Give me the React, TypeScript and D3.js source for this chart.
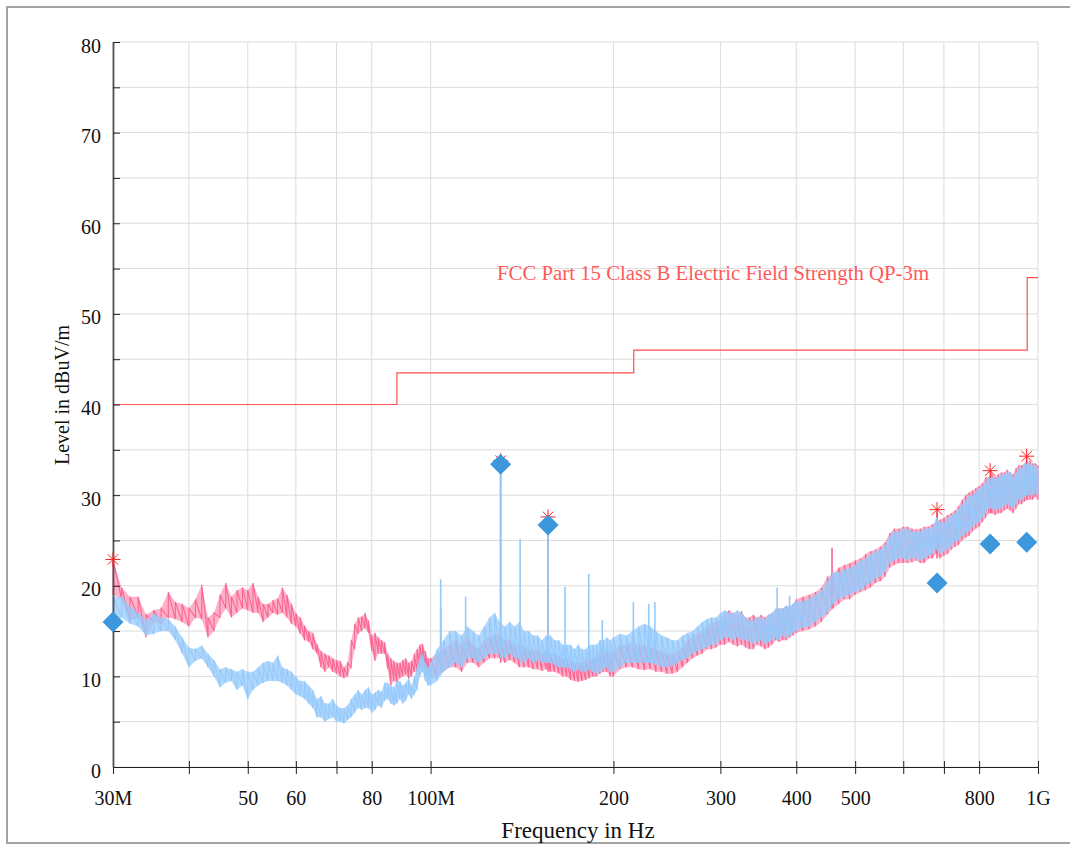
import React, { useRef, useEffect } from "react";
import * as d3 from "d3";

// scan grid (MHz)
const lowBandMHz = [
  30, 31, 32, 33, 34, 35, 36, 37, 38, 39, 40, 41, 42, 43, 44, 45, 46, 47, 48, 49,
  50, 51, 52, 53, 54, 55, 56, 57, 58, 59, 60, 61, 62, 63, 64, 65, 66, 67, 68, 69,
  70, 71, 72, 73, 74, 75, 76, 77, 78, 79, 80, 81, 82, 83, 84, 85, 86, 87, 88, 89,
  90, 91, 92, 93, 94, 95, 96, 97, 98, 99, 100,
];
const highBandMHz = [
  102.5, 105, 107.5, 110, 112.5, 115, 117.5, 120, 122.5, 125, 127.5, 130, 132.5, 135, 137.5, 140,
  142.5, 145, 147.5, 150, 152.5, 155, 157.5, 160, 162.5, 165, 167.5, 170, 172.5, 175, 177.5, 180,
  182.5, 185, 187.5, 190, 192.5, 195, 197.5, 200,
  205, 210, 215, 220, 225, 230, 235, 240, 245, 250, 255, 260, 265, 270, 275, 280, 285, 290, 295, 300,
  305, 310, 315, 320, 325, 330, 335, 340, 345, 350, 355, 360, 365, 370, 375, 380, 385, 390, 395, 400,
  410, 420, 430, 440, 450, 460, 470, 480, 490, 500, 510, 520, 530, 540, 550, 560, 570, 580, 590, 600,
  610, 620, 630, 640, 650, 660, 670, 680, 690, 700, 710, 720, 730, 740, 750, 760, 770, 780, 790, 800,
  810, 820, 830, 840, 850, 860, 870, 880, 890, 900, 910, 920, 930, 940, 950, 960, 970, 980, 990, 1000,
];

// horizontal scan (pink), min / max of the trace at each grid step
const horLowMin = [
  19.0, 18.5, 16.2, 16.5, 14.3, 16.0, 15.8, 16.5, 16.3, 16.0,
  15.5, 16.5, 16.3, 14.3, 15.0, 16.5, 17.5, 16.5, 17.0, 17.5,
  17.3, 17.0, 17.0, 16.0, 16.5, 17.0, 16.8, 17.0, 16.5, 15.8,
  15.5, 14.7, 14.0, 13.8, 13.0, 12.5, 11.0, 10.5, 11.0, 10.5,
  10.3, 10.0, 9.8, 10.0, 11.0, 13.0, 14.7, 15.0, 15.3, 14.8,
  12.8, 11.7, 12.5, 12.5, 12.5, 10.8, 9.0, 9.5, 9.3, 9.8,
  10.0, 10.2, 9.8, 10.0, 10.5, 10.5, 11.0, 11.5, 10.5, 10.0, 9.8,
];
const horLowMax = [
  22.9, 19.8, 18.8, 18.8, 16.8, 17.3, 17.5, 19.3, 18.2, 18.0,
  17.5, 18.5, 20.1, 16.5, 17.0, 19.0, 20.3, 18.8, 19.5, 19.8,
  19.5, 20.3, 18.8, 18.0, 18.0, 18.4, 18.6, 19.8, 19.0, 18.0,
  17.0, 16.5, 15.6, 15.0, 14.8, 13.6, 12.8, 12.5, 12.3, 12.0,
  11.8, 11.7, 11.0, 11.5, 14.0, 15.8, 16.5, 16.6, 17.0, 16.2,
  14.5, 14.8, 14.3, 14.0, 13.8, 12.5, 12.0, 11.7, 11.5, 11.5,
  11.8, 12.0, 11.5, 11.7, 12.5, 13.0, 13.5, 13.6, 12.8, 12.0, 12.0,
];
const horHighMin = [
  10.0, 10.5, 11.0, 11.0, 10.5, 11.5, 11.5, 11.0, 11.5, 12.0,
  12.0, 12.0, 11.5, 11.8, 11.5, 11.0, 11.0, 11.0, 10.8, 10.8,
  10.6, 10.8, 10.5, 10.5, 10.3, 10.0, 10.0, 9.6, 9.5, 9.4,
  9.5, 9.6, 9.8, 10.0, 10.0, 10.3, 10.5, 10.5, 10.0, 10.0,
  10.8, 11.0, 11.0, 10.8, 10.7, 10.8, 10.5, 10.5, 10.3, 10.3,
  10.5, 11.0, 11.5, 12.0, 12.3, 12.5, 13.0, 13.0, 13.2, 13.5,
  13.5, 13.8, 13.5, 13.3, 13.5, 13.2, 13.0, 13.0, 13.5, 13.3,
  13.0, 13.2, 13.5, 14.0, 13.8, 14.0, 14.0, 14.3, 14.5, 14.8,
  15.0, 15.2, 15.5, 16.0, 16.8, 17.5, 18.0, 18.5, 18.5, 19.0,
  19.3, 19.5, 19.8, 20.3, 20.5, 21.0, 22.0, 22.3, 22.5, 22.5,
  22.5, 22.6, 22.8, 22.5, 22.5, 23.0, 23.0, 23.5, 23.0, 23.3,
  23.5, 24.0, 24.3, 24.5, 25.0, 25.3, 25.5, 26.0, 26.3, 26.5,
  27.0, 27.5, 28.0, 28.0, 27.8, 28.0, 28.0, 28.3, 28.5, 28.3,
  28.0, 28.5, 29.0, 29.0, 29.3, 29.5, 29.5, 29.5, 29.8, 29.5,
];
const horHighMax = [
  12.5, 13.0, 13.5, 14.0, 13.5, 14.3, 13.5, 13.0, 14.0, 14.5,
  14.6, 14.5, 14.0, 14.0, 13.5, 13.5, 13.3, 13.0, 12.8, 13.0,
  12.5, 13.0, 12.5, 12.5, 12.3, 12.0, 12.0, 11.8, 11.5, 11.5,
  11.5, 11.8, 12.0, 12.0, 12.2, 12.5, 12.5, 12.8, 12.5, 12.8,
  13.5, 13.5, 13.8, 13.6, 13.5, 13.3, 13.0, 12.8, 12.5, 12.5,
  12.8, 13.3, 14.0, 14.5, 14.8, 15.0, 15.5, 15.8, 16.0, 16.5,
  17.0, 17.3, 17.0, 16.8, 17.2, 16.5, 16.5, 16.8, 16.5, 16.8,
  16.5, 16.8, 17.0, 17.3, 17.5, 17.5, 17.8, 17.5, 18.0, 18.5,
  18.8, 19.0, 19.3, 19.8, 21.0, 21.3, 22.0, 22.3, 22.5, 22.8,
  23.0, 23.5, 23.8, 24.0, 24.3, 24.8, 25.8, 26.3, 26.3, 26.5,
  26.5, 26.3, 26.2, 26.3, 26.5, 26.5, 26.8, 27.0, 27.3, 27.5,
  27.8, 28.0, 28.3, 28.8, 29.5, 30.0, 30.3, 30.5, 30.8, 31.0,
  31.3, 32.0, 32.0, 32.3, 32.0, 32.3, 32.5, 32.5, 32.8, 32.5,
  32.3, 33.0, 33.3, 33.3, 33.5, 33.6, 33.8, 33.5, 33.5, 33.3,
];

// vertical scan (light blue)
const verLowMin = [
  16.0, 16.5, 15.8, 15.5, 14.5, 14.7, 15.0, 15.0, 14.0, 12.5,
  11.0, 11.7, 12.0, 11.0, 10.0, 8.8, 9.3, 9.5, 8.5, 9.0,
  7.5, 8.5, 9.0, 9.3, 9.5, 9.5, 9.5, 9.3, 9.0, 8.5,
  8.0, 7.8, 7.5, 7.0, 6.5, 5.5, 5.5, 5.0, 5.3, 5.5,
  5.0, 5.0, 4.8, 5.2, 5.5, 6.0, 6.5, 6.3, 6.5, 6.5,
  6.0, 6.3, 6.8, 6.5, 7.3, 7.5, 7.0, 6.8, 7.0, 7.5,
  7.0, 7.3, 8.0, 7.5, 8.0, 8.5, 10.0, 10.5, 9.5, 9.0, 9.0,
];
const verLowMax = [
  18.8, 18.8, 17.7, 17.0, 16.2, 16.9, 16.5, 16.3, 15.5, 14.3,
  13.2, 13.0, 13.4, 12.5, 11.8, 10.8, 11.0, 10.8, 10.5, 10.8,
  10.5, 10.5, 11.0, 11.5, 11.7, 11.5, 12.3, 11.0, 10.8, 10.5,
  10.0, 9.5, 9.5, 9.0, 8.5, 7.5, 7.8, 7.0, 7.0, 7.5,
  6.8, 6.5, 6.5, 6.8, 7.5, 8.0, 8.5, 8.0, 8.5, 8.8,
  8.0, 8.2, 8.5, 8.3, 9.3, 9.3, 9.0, 8.8, 9.5, 9.5,
  9.0, 9.3, 9.8, 9.0, 10.0, 11.0, 12.0, 12.5, 11.5, 11.0, 11.5,
];
const verHighMin = [
  9.5, 10.5, 11.0, 11.5, 11.0, 12.0, 12.0, 11.5, 12.0, 12.5,
  12.5, 12.5, 12.0, 12.5, 12.0, 12.0, 11.5, 12.0, 11.5, 11.8,
  11.5, 11.5, 11.5, 11.3, 11.0, 11.0, 11.0, 10.8, 10.5, 10.8,
  10.5, 10.5, 10.8, 10.5, 10.3, 10.5, 10.8, 11.0, 10.5, 10.5,
  11.0, 11.5, 11.5, 11.5, 11.5, 11.5, 11.3, 11.0, 11.0, 11.2,
  11.5, 11.8, 12.0, 12.5, 12.8, 13.0, 13.2, 13.5, 13.5, 14.0,
  14.3, 14.3, 14.0, 14.3, 14.0, 14.0, 13.8, 13.6, 13.8, 14.0,
  13.6, 13.8, 14.0, 14.3, 14.0, 14.5, 14.3, 14.5, 14.8, 15.0,
  15.4, 15.5, 16.0, 16.5, 17.0, 18.0, 18.5, 18.8, 19.0, 19.3,
  19.5, 20.0, 20.3, 20.8, 21.0, 21.5, 22.5, 22.8, 23.0, 23.0,
  22.8, 23.0, 23.0, 22.8, 23.0, 23.3, 23.5, 24.0, 23.5, 23.8,
  24.0, 24.3, 24.8, 25.0, 25.5, 25.8, 26.0, 26.5, 26.8, 27.0,
  27.5, 28.0, 28.5, 28.5, 28.3, 28.5, 28.5, 28.8, 29.0, 28.8,
  28.5, 29.0, 29.5, 29.5, 29.8, 30.0, 30.0, 30.0, 30.3, 30.0,
];
const verHighMax = [
  13.0, 14.0, 15.0, 15.0, 14.5, 15.5, 15.0, 14.5, 15.5, 16.5,
  17.0, 16.0, 15.5, 16.0, 15.5, 16.0, 15.0, 15.0, 14.5, 14.5,
  14.0, 14.5, 14.5, 14.0, 14.0, 13.5, 13.5, 13.5, 13.0, 13.5,
  13.0, 13.0, 13.5, 13.5, 13.5, 14.0, 14.0, 14.3, 14.0, 14.3,
  14.7, 14.5, 15.0, 15.5, 15.8, 15.5, 15.0, 14.5, 14.3, 14.0,
  14.0, 14.5, 14.8, 15.0, 15.5, 16.0, 16.3, 16.5, 16.5, 17.0,
  17.3, 17.0, 17.0, 17.3, 17.0, 16.5, 16.2, 16.2, 16.5, 16.5,
  16.3, 16.8, 17.0, 17.5, 17.5, 17.5, 17.8, 17.8, 18.0, 18.3,
  18.3, 18.6, 19.0, 19.5, 20.5, 21.5, 21.5, 21.8, 22.0, 22.3,
  22.8, 23.0, 23.5, 23.8, 24.0, 24.5, 25.5, 26.0, 26.0, 26.3,
  26.3, 26.0, 26.0, 26.0, 26.3, 26.3, 26.5, 27.5, 27.0, 27.0,
  27.5, 27.8, 28.0, 28.5, 29.0, 29.5, 30.0, 30.0, 30.5, 30.8,
  31.0, 31.5, 32.0, 32.0, 31.8, 32.0, 32.3, 32.3, 32.5, 32.5,
  32.0, 32.5, 33.0, 33.0, 33.5, 33.8, 33.5, 33.3, 33.3, 33.0,
];

// narrow emissions sticking out of the noise floor
const verSpikeMHz = [103.9, 114.2, 130.4, 140.4, 156.1, 166.4, 182.1, 191.7, 215.7, 228.6, 234, 372, 390];
const verSpikeLevels = [20.7, 18.8, 33.2, 25.2, 26.4, 19.9, 21.3, 16.2, 18.2, 18.0, 18.2, 19.8, 18.9];
const horSpikeMHz = [103.9, 130.4, 156.1, 458, 682, 836, 958];
const horSpikeLevels = [17.5, 33.8, 27.6, 24.2, 28.2, 32.7, 34.2];

// final measurement results
const markerMHz = [30, 130.4, 156.1, 682, 834, 958];
const peakLevels = [22.9, 33.8, 27.6, 28.4, 32.7, 34.3];
const qpLevels = [16.0, 33.4, 26.7, 20.3, 24.6, 24.8];

// limit line
const limitMHz = [30, 88, 216, 960, 1000];
const limitLevels = [40, 43.5, 46, 54, 54];
const limitName = "FCC Part 15 Class B Electric Field Strength QP-3m";

const xTickValues = [30, 40, 50, 60, 70, 80, 100, 200, 300, 400, 500, 600, 700, 800, 1000];
const xTickLabels = ["30M", "", "50", "60", "", "80", "100M", "200", "300", "400", "500", "", "", "800", "1G"];
const yTickValues = [0, 5, 10, 15, 20, 25, 30, 35, 40, 45, 50, 55, 60, 65, 70, 75, 80];

const FONT = "'Liberation Serif', 'Times New Roman', serif";
const PINK = "#fb6593";
const BLUE = "#96c9fb";

const EmcChart: React.FC = () => {
  const svgRef = useRef<SVGSVGElement>(null);

  useEffect(() => {
    if (svgRef.current === null) return;
    const svg = d3.select(svgRef.current);
    svg.selectAll("*").remove();

    const x = d3.scaleLog().domain([30, 1000]).range([113, 1038]);
    const y = d3.scaleLinear().domain([0, 80]).range([767, 42]);

    // outer frame
    svg
      .append("rect")
      .attr("x", 7)
      .attr("y", 7)
      .attr("width", 1100)
      .attr("height", 836)
      .attr("fill", "#fff")
      .attr("stroke", "#a3a3a3")
      .attr("stroke-width", 2);

    // grid
    const grid = svg.append("g").attr("stroke", "#dcdcdc").attr("stroke-width", 1);
    grid
      .selectAll("line.h")
      .data(yTickValues)
      .enter()
      .append("line")
      .attr("x1", 113)
      .attr("x2", 1038)
      .attr("y1", d => y(d))
      .attr("y2", d => y(d));
    grid
      .selectAll("line.v")
      .data(xTickValues)
      .enter()
      .append("line")
      .attr("x1", d => x(d))
      .attr("x2", d => x(d))
      .attr("y1", 42)
      .attr("y2", 767);

    // limit line + label
    const limitPts = limitMHz.map((f, i) => [f, limitLevels[i]] as [number, number]);
    svg
      .append("path")
      .attr(
        "d",
        d3
          .line<[number, number]>()
          .x(d => x(d[0]))
          .y(d => y(d[1]))
          .curve(d3.curveStepAfter)(limitPts)
      )
      .attr("fill", "none")
      .attr("stroke", "#ff5050")
      .attr("stroke-width", 1.2);
    svg
      .append("text")
      .attr("x", 497)
      .attr("y", 280)
      .attr("fill", "#ff5a5a")
      .style("font-family", FONT)
      .style("font-size", "20.8px")
      .text(limitName);

    // traces
    const scanMHz = lowBandMHz.concat(highBandMHz);
    const drawTrace = (mins: number[], maxs: number[], color: string, fillOpacity: number) => {
      const rows = scanMHz.map((f, i) => ({ f, lo: mins[i], hi: maxs[i] }));
      const g = svg.append("g");
      g.append("path")
        .datum(rows)
        .attr(
          "d",
          d3
            .area<{ f: number; lo: number; hi: number }>()
            .x(d => x(d.f))
            .y0(d => y(d.lo))
            .y1(d => y(d.hi))
        )
        .attr("fill", color)
        .attr("opacity", fillOpacity);
      // saw-tooth through the min/max readings
      const saw = rows.flatMap(d => [
        [d.f, d.lo],
        [d.f, d.hi],
      ]) as [number, number][];
      g.append("path")
        .attr(
          "d",
          d3
            .line<[number, number]>()
            .x(d => x(d[0]))
            .y(d => y(d[1]))(saw)
        )
        .attr("fill", "none")
        .attr("stroke", color)
        .attr("stroke-width", 1.1);
    };
    const drawSpikes = (freqs: number[], levels: number[], mins: number[], color: string) => {
      svg
        .append("g")
        .selectAll("line")
        .data(freqs)
        .enter()
        .append("line")
        .attr("x1", d => x(d))
        .attr("x2", d => x(d))
        .attr("y1", (d, i) => y(levels[i]))
        .attr("y2", d => {
          const idx = Math.min(d3.bisectLeft(scanMHz, d), scanMHz.length - 1);
          return y(mins[idx]);
        })
        .attr("stroke", color)
        .attr("stroke-width", 1.6);
    };

    const horMin = horLowMin.concat(horHighMin);
    const horMax = horLowMax.concat(horHighMax);
    const verMin = verLowMin.concat(verHighMin);
    const verMax = verLowMax.concat(verHighMax);

    drawTrace(horMin, horMax, PINK, 0.5);
    drawSpikes(horSpikeMHz, horSpikeLevels, horMin, PINK);
    drawTrace(verMin, verMax, BLUE, 0.75);
    drawSpikes(verSpikeMHz, verSpikeLevels, verMin, BLUE);

    // axes
    const xAxis = d3
      .axisBottom(x)
      .tickValues(xTickValues)
      .tickFormat((d, i) => xTickLabels[i])
      .tickSize(7)
      .tickSizeOuter(0)
      .tickPadding(17);
    const gx = svg.append("g").attr("transform", "translate(0,767)").call(xAxis);
    gx.select(".domain").attr("stroke", "#222");
    gx.selectAll(".tick line").attr("y1", -6).attr("stroke", "#222");
    gx.selectAll(".tick text")
      .attr("fill", "#111")
      .style("font-family", FONT)
      .style("font-size", "20px");

    const yAxis = d3
      .axisLeft(y)
      .tickValues(yTickValues)
      .tickFormat(d => ((d as number) % 10 === 0 ? String(d) : ""))
      .tickSize(6)
      .tickSizeOuter(0)
      .tickPadding(6);
    const gy = svg.append("g").attr("transform", "translate(113,0)").call(yAxis);
    gy.select(".domain").attr("stroke", "#555").attr("stroke-width", 1.8);
    gy.selectAll(".tick line").attr("x2", 7).attr("stroke", "#222");
    gy.selectAll(".tick text")
      .attr("dy", "0.5em")
      .attr("fill", "#111")
      .style("font-family", FONT)
      .style("font-size", "20px");

    // axis titles
    svg
      .append("text")
      .attr("x", 578)
      .attr("y", 838)
      .attr("text-anchor", "middle")
      .attr("fill", "#111")
      .style("font-family", FONT)
      .style("font-size", "23px")
      .text("Frequency in Hz");
    svg
      .append("text")
      .attr("transform", "translate(69,395) rotate(-90)")
      .attr("text-anchor", "middle")
      .attr("fill", "#111")
      .style("font-family", FONT)
      .style("font-size", "20px")
      .text("Level in dBuV/m");

    // peak markers (asterisks)
    const star = (r: number) =>
      `M${-r},0L${r},0M0,${-r}L0,${r}M${-r * 0.7},${-r * 0.7}L${r * 0.7},${r * 0.7}M${-r * 0.7},${r * 0.7}L${r * 0.7},${-r * 0.7}`;
    svg
      .append("g")
      .selectAll("path")
      .data(markerMHz)
      .enter()
      .append("path")
      .attr("transform", (d, i) => `translate(${x(d)},${y(peakLevels[i])})`)
      .attr("d", star(7.5))
      .attr("fill", "none")
      .attr("stroke", "#ff2020")
      .attr("stroke-width", 1);

    // quasi-peak markers (diamonds)
    svg
      .append("g")
      .selectAll("path")
      .data(markerMHz)
      .enter()
      .append("path")
      .attr("transform", (d, i) => `translate(${x(d)},${y(qpLevels[i])}) rotate(45)`)
      .attr("d", d3.symbol().type(d3.symbolSquare).size(220)())
      .attr("fill", "#3d97dd");
  }, []);

  return (
    <svg
      ref={svgRef}
      width={1070}
      height={846}
      style={{ position: "absolute", left: 0, top: 0, display: "block" }}
    />
  );
};

export default function App() {
  return <EmcChart />;
}
